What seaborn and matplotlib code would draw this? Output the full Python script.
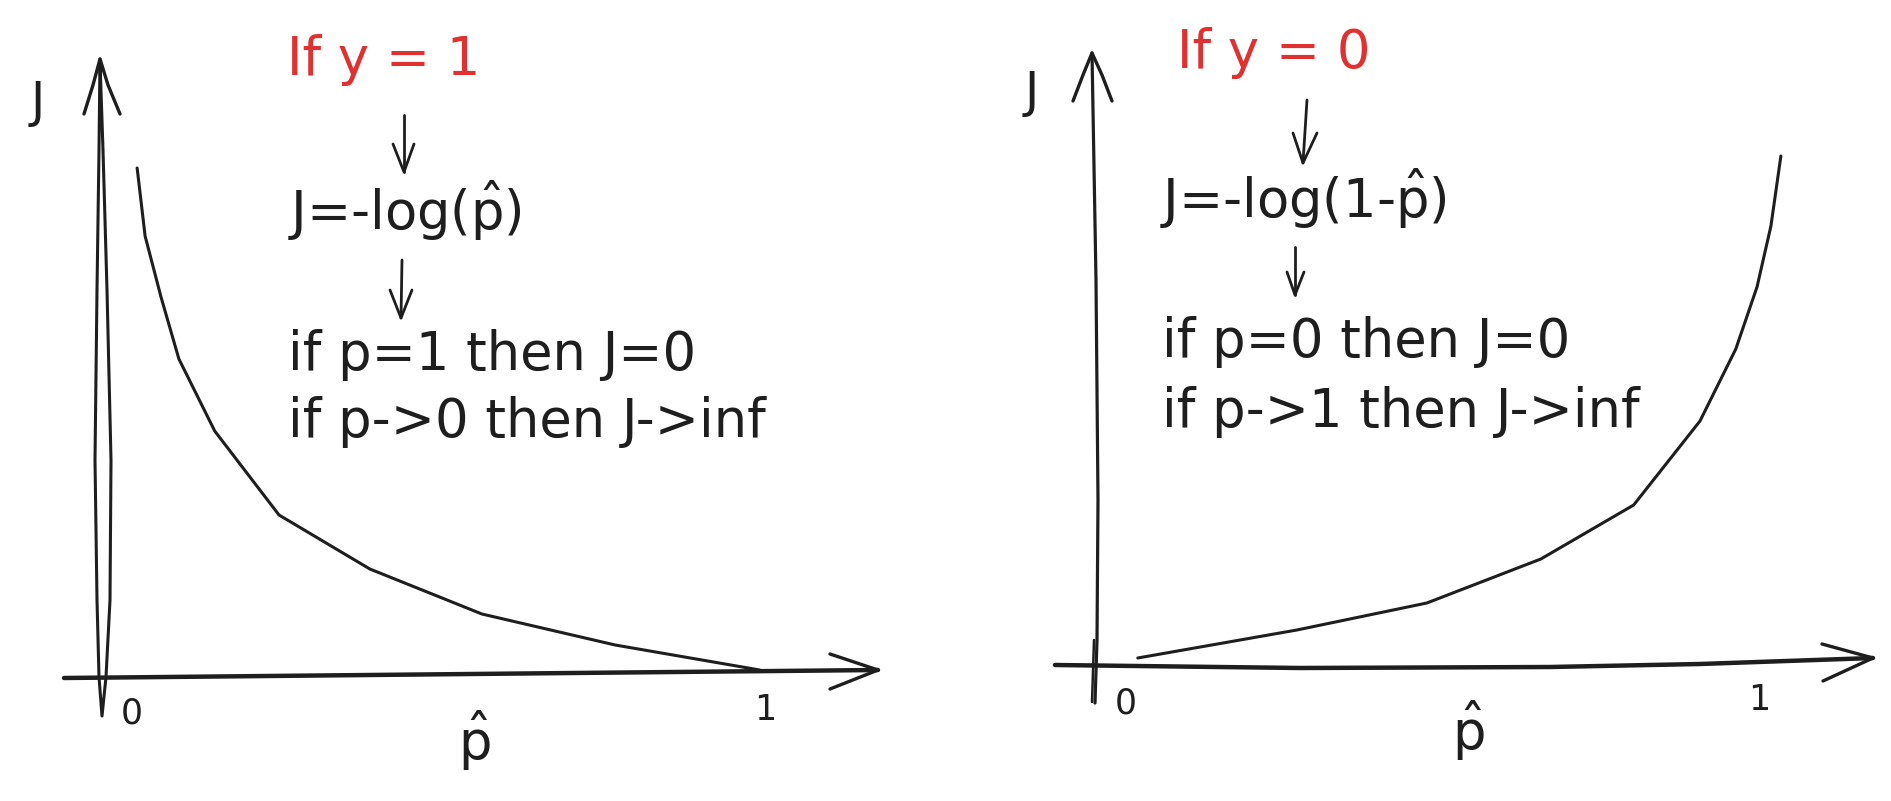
import matplotlib
matplotlib.use("Agg")
import matplotlib.pyplot as plt
import pandas as pd
import seaborn as sns

# ---------------- data ----------------
p_hat_left = [0.053, 0.065, 0.089, 0.116, 0.170, 0.267, 0.404, 0.573, 0.774, 0.992]
J_left = [5.09, 4.41, 3.80, 3.18, 2.46, 1.62, 1.08, 0.63, 0.32, 0.07]

p_hat_right = [0.063, 0.303, 0.499, 0.671, 0.811, 0.911, 0.965, 0.997, 1.018, 1.033]
J_right = [0.09, 0.37, 0.64, 1.08, 1.62, 2.46, 3.18, 3.80, 4.41, 5.11]

tick_values = [0, 1]
tick_labels = ["0", "1"]
axis_x_label = r"$\hat{\mathrm{p}}$"
axis_y_label = "J"

titles = ["If y = 1", "If y = 0"]
formulas = [r"J=-log($\hat{\mathrm{p}}$)", r"J=-log(1-$\hat{\mathrm{p}}$)"]
cond_zero = ["if p=1 then J=0", "if p=0 then J=0"]
cond_inf = ["if p->0 then J->inf", "if p->1 then J->inf"]

# ---------------- style ----------------
W, H = 1891, 801
INK = "#1e1e1e"
RED = "#e03131"
NOTE_SIZE = 38

sns.set_theme(style="white")
plt.rcParams["font.family"] = ["DejaVu Sans"]
plt.rcParams["mathtext.fontset"] = "dejavusans"

fig = plt.figure(figsize=(W / 100, H / 100), dpi=100)
fig.patch.set_facecolor("white")

# overlay in pixel coordinates for hand-drawn decorations and notes
ov = fig.add_axes([0, 0, 1, 1])
ov.set_xlim(0, W)
ov.set_ylim(H, 0)
ov.axis("off")
ov.patch.set_alpha(0)


def stroke(pts, lw):
    xs, ys = zip(*pts)
    ov.plot(xs, ys, color=INK, lw=lw, solid_capstyle="round", solid_joinstyle="round")


# panel geometry: origin pixel and units (pixels per data unit)
U, V = 663.0, 100.0
panels = [
    dict(x0=0.0, x1=W / 2, ox=102.0, oy=677.0, px=p_hat_left, J=J_left),
    dict(x0=W / 2, x1=float(W), ox=1096.0, oy=667.0, px=p_hat_right, J=J_right),
]

for i, P in enumerate(panels):
    ax = fig.add_axes([P["x0"] / W, 0, (P["x1"] - P["x0"]) / W, 1])
    ax.set_xlim((P["x0"] - P["ox"]) / U, (P["x1"] - P["ox"]) / U)
    ax.set_ylim((P["oy"] - H) / V, P["oy"] / V)
    ax.axis("off")
    ax.patch.set_alpha(0)
    df = pd.DataFrame({"p_hat": P["px"], "J": P["J"]})
    sns.lineplot(data=df, x="p_hat", y="J", sort=False, errorbar=None, ax=ax,
                 color=INK, lw=2.2, solid_capstyle="round", solid_joinstyle="round")
    # tick labels
    for v, lab in zip(tick_values, tick_labels):
        ax.text(v + (0.045 if v == 0 else 0.0), -0.47 if v == 0 else -0.43, lab,
                ha="center", va="baseline", fontsize=25, color=INK)
    ax.text(0.561, -0.83, axis_x_label, ha="center", va="baseline", fontsize=38, color=INK)
    ax.text(-0.097, 5.6, axis_y_label, ha="center", va="baseline", fontsize=35, color=INK)

# ---- left hand-drawn axes ----
stroke([(100, 59), (99, 150), (97, 290), (95, 460), (97, 600), (99, 677), (102, 716),
        (106, 677), (110, 600), (111, 460), (107, 290), (103, 150), (100, 62)], 2.2)
stroke([(84, 114), (93, 85), (100, 59), (108, 85), (120, 114)], 2.4)
stroke([(64, 678), (878, 670)], 3.2)
stroke([(830, 654), (878, 670), (830, 689)], 2.4)

# ---- right hand-drawn axes ----
stroke([(1092, 53), (1096, 280), (1098, 500), (1097, 640), (1095, 703)], 2.3)
stroke([(1092, 702), (1094, 640)], 1.8)
stroke([(1073, 101), (1083, 75), (1092, 53), (1102, 75), (1112, 101)], 2.4)
stroke([(1055, 665), (1300, 668), (1550, 667), (1700, 664), (1873, 658)], 3.2)
stroke([(1822, 644), (1873, 658), (1823, 681)], 2.4)

# ---- small down arrows ----
for (x0, y0, x1, y1, bl, br, by) in [
    (404, 115, 404, 172, 393, 414, 144),
    (402, 260, 401, 318, 390, 412, 290),
    (1307, 100, 1303, 163, 1293, 1317, 133),
    (1295, 247, 1295, 295, 1287, 1304, 272),
]:
    stroke([(x0, y0), (x1, y1)], 2.0)
    stroke([(bl, by), (x1, y1), (br, by)], 2.0)

# ---- notes ----
notes_x = [(287, 288, 288), (1177, 1160, 1162)]
notes_y = [(75, 230, 370, 437), (68, 218, 357, 427)]
for i in range(2):
    tx, fx, cx = notes_x[i]
    ty, fy, c1, c2 = notes_y[i]
    ov.text(tx, ty, titles[i], color=RED, fontsize=NOTE_SIZE, ha="left", va="baseline")
    ov.text(fx, fy, formulas[i], color=INK, fontsize=NOTE_SIZE, ha="left", va="baseline")
    ov.text(cx, c1, cond_zero[i], color=INK, fontsize=NOTE_SIZE, ha="left", va="baseline")
    ov.text(cx, c2, cond_inf[i], color=INK, fontsize=NOTE_SIZE, ha="left", va="baseline")

fig.savefig("out.png", dpi=100, facecolor="white")
